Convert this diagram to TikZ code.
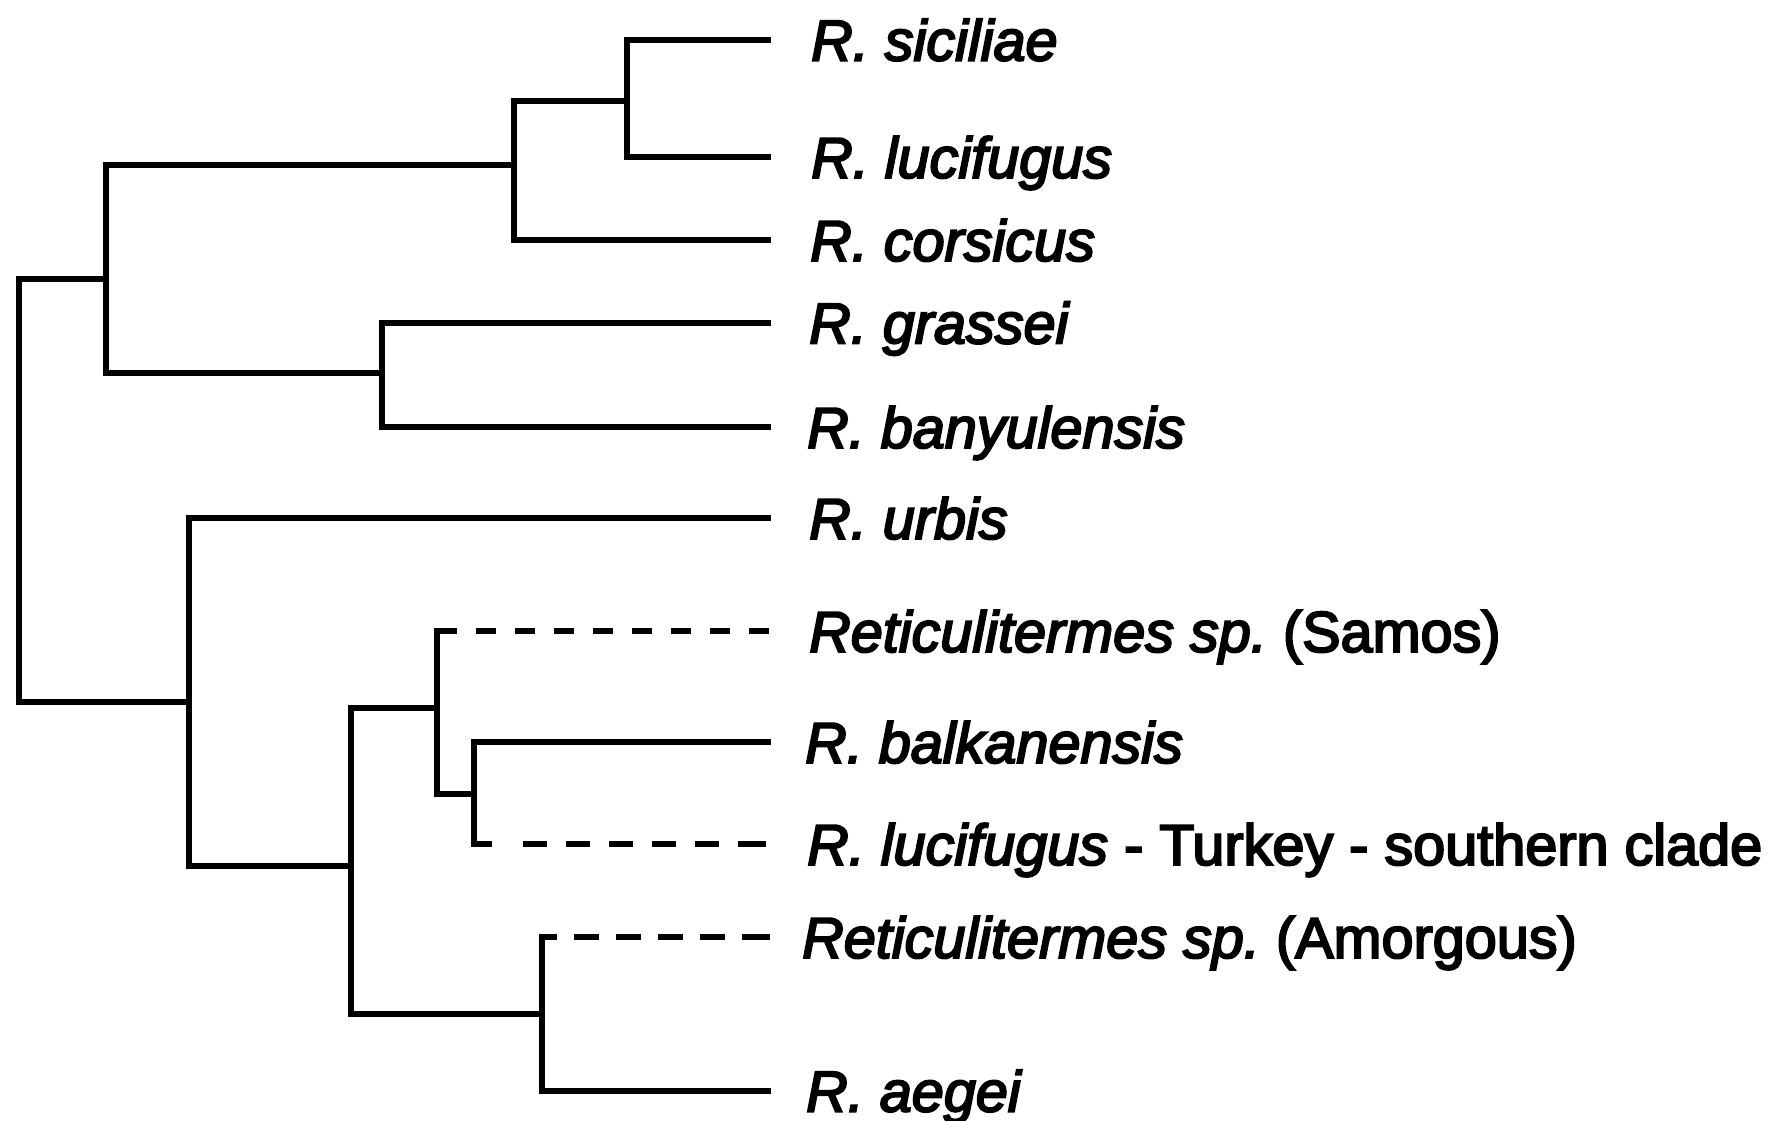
\documentclass[tikz,border=0pt]{standalone}
\usepackage{fontspec}
\setmainfont{Liberation Sans}[FakeBold=3.5, ItalicFeatures={FakeBold=3.5}]
\frenchspacing
\begin{document}
\begin{tikzpicture}[x=1pt,y=-1pt,
  branch/.style={line width=6pt, line cap=rect, line join=miter},
  dashbranch/.style={line width=6pt, line cap=butt},
  lab/.style={anchor=base west, inner sep=0pt, font=\fontsize{57.6}{69}\selectfont}]
\useasboundingbox (0,0) rectangle (1774,1120);

% internal nodes: (x of the vertical bar, y where the parent attaches)
\coordinate (root) at (19,490);
\coordinate (A) at (106,278.6);
\coordinate (B) at (514,165);
\coordinate (C) at (627,101);
\coordinate (D) at (382,372.5);
\coordinate (E) at (189,702);
\coordinate (F) at (351,866);
\coordinate (G) at (437,708);
\coordinate (H) at (474,794);
\coordinate (I) at (542,1013.5);

% branch tips
\coordinate (tsic) at (768,39.6);
\coordinate (tluc) at (768,157);
\coordinate (tcor) at (768,240);
\coordinate (tgra) at (768,322.5);
\coordinate (tban) at (768,427);
\coordinate (turb) at (768,518);
\coordinate (tsam) at (771,631);
\coordinate (tbal) at (768,742);
\coordinate (ttur) at (771,844);
\coordinate (tamo) at (771,937);
\coordinate (taeg) at (768,1090.5);

% taxon labels
\node[lab] (lsic) at (811,60.5) {\itshape R. siciliae};
\node[lab] (lluc) at (811,177.9) {\itshape R. lucifugus};
\node[lab] (lcor) at (810,260.9) {\itshape R. corsicus};
\node[lab] (lgra) at (809,343.4) {\itshape R. grassei};
\node[lab] (lban) at (807,447.9) {\itshape R. banyulensis};
\node[lab] (lurb) at (809,538.9) {\itshape R. urbis};
\node[lab] (lsam) at (809,651.9) {{\itshape Reticulitermes sp.} (Samos)};
\node[lab] (lbal) at (805,762.9) {\itshape R. balkanensis};
\node[lab] (ltur) at (807,864.9) {{\itshape R. lucifugus} - Turkey - southern clade};
\node[lab] (lamo) at (802,957.9) {{\itshape Reticulitermes sp.} (Amorgous)};
\node[lab] (laeg) at (806,1111.5) {\itshape R. aegei};

% solid branches
\draw[branch] (A) -| (root) |- (E);
\draw[branch] (B) -| (A) |- (D);
\draw[branch] (C) -| (B) |- (tcor);
\draw[branch] (tsic) -| (C) |- (tluc);
\draw[branch] (tgra) -| (D) |- (tban);
\draw[branch] (turb) -| (E) |- (F);
\draw[branch] (G) -| (F) |- (I);
\draw[branch] (G |- tsam) -- (G) |- (H);
\draw[branch] (tbal) -| (H) -- (H |- ttur);
\draw[branch] (I |- tamo) -- (I) |- (taeg);

% dashed branches
\draw[dashbranch, dash pattern=on 20pt off 19pt] (G |- tsam) -- (tsam);
\draw[dashbranch, dash pattern=on 18pt off 31pt on 24pt off 19pt on 24pt off 19pt on 24pt off 19pt on 24pt off 19pt on 24pt off 19pt on 28pt off 10pt] (H |- ttur) -- (ttur);
\draw[dashbranch, dash pattern=on 15pt off 17pt on 25pt off 17pt on 25pt off 17pt on 25pt off 17pt on 25pt off 17pt on 28pt off 10pt] (I |- tamo) -- (tamo);
\end{tikzpicture}
\end{document}
